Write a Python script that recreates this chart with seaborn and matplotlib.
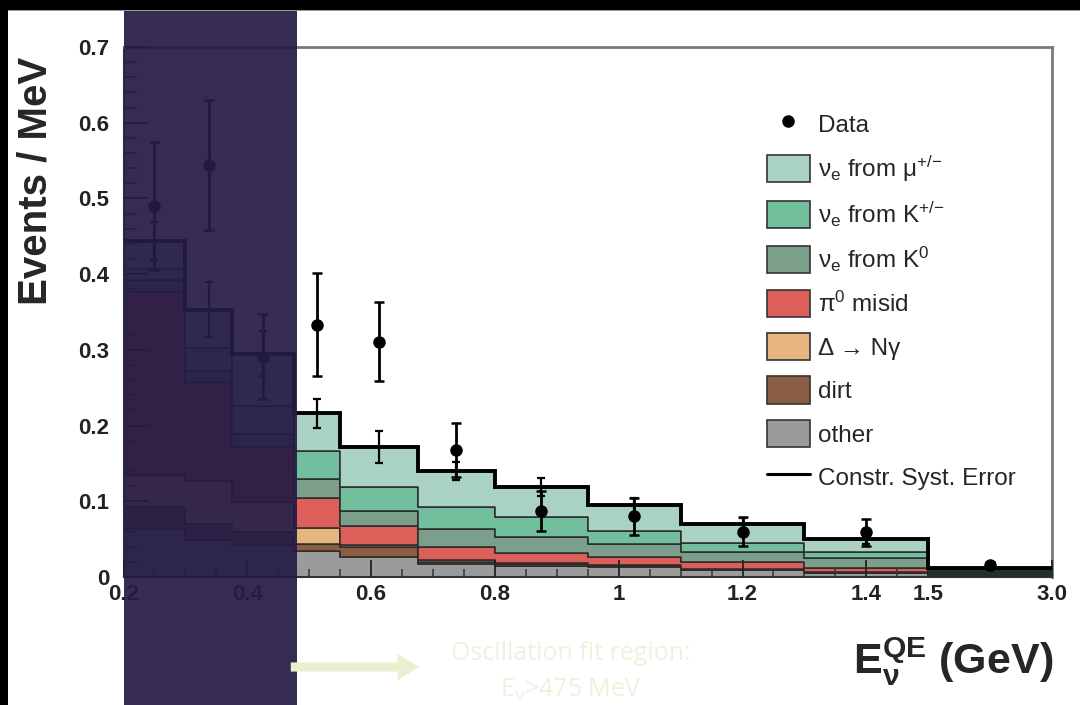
import numpy as np
import pandas as pd
import matplotlib
matplotlib.use("Agg")
import matplotlib.pyplot as plt
import seaborn as sns
from matplotlib.patches import Rectangle, Patch, FancyArrowPatch
from matplotlib.lines import Line2D
from matplotlib.transforms import blended_transform_factory

# ---------------- data ----------------
bin_edges = [0.2, 0.3, 0.375, 0.475, 0.55, 0.675, 0.8, 0.95, 1.1, 1.3, 1.5, 3.0]

nue_mu    = [0.037, 0.051, 0.069, 0.050, 0.053, 0.0475, 0.0396, 0.0342, 0.0251, 0.0165, 0.0033]
nue_kpm   = [0.015, 0.030, 0.037, 0.037, 0.032, 0.029, 0.0256, 0.0176, 0.0119, 0.0088, 0.0015]
nue_k0    = [0.015, 0.014, 0.017, 0.024, 0.020, 0.024, 0.0213, 0.0164, 0.0132, 0.0132, 0.0030]
pi0_misid = [0.242, 0.131, 0.073, 0.040, 0.025, 0.018, 0.014, 0.0108, 0.0084, 0.0045, 0.0010]
delta_ng  = [0.042, 0.057, 0.039, 0.021, 0.003, 0.002, 0.001, 0.001, 0.0005, 0.0005, 0.0002]
dirt      = [0.030, 0.021, 0.018, 0.010, 0.012, 0.003, 0.002, 0.002, 0.0015, 0.0010, 0.0005]
other     = [0.063, 0.049, 0.042, 0.034, 0.027, 0.017, 0.015, 0.013, 0.009, 0.0055, 0.0020]

data_vals = [0.490, 0.544, 0.291, 0.333, 0.311, 0.168, 0.087, 0.080, 0.060, 0.059, 0.016]
data_err  = [0.085, 0.086, 0.056, 0.068, 0.052, 0.036, 0.026, 0.025, 0.019, 0.018, 0.004]
syst_err  = [0.025, 0.036, 0.030, 0.019, 0.021, 0.012, 0.012, 0.010, 0.008, 0.006, 0.002]

comp_labels = [r"$\nu_e$ from $\mu^{+/{-}}$", r"$\nu_e$ from K$^{+/{-}}$", r"$\nu_e$ from K$^0$",
               r"$\pi^0$ misid", "Δ → Nγ", "dirt", "other"]
comp_colors = ["#a9d2c5", "#71bf9c", "#7c9f8b", "#dc5f5a", "#e7b67f", "#8c5d45", "#9b9b9b"]
comp_values = [nue_mu, nue_kpm, nue_k0, pi0_misid, delta_ng, dirt, other]

xtick_vals = [0.2, 0.4, 0.6, 0.8, 1.0, 1.2, 1.4, 1.5, 3.0]
xtick_labels = ["0.2", "0.4", "0.6", "0.8", "1", "1.2", "1.4", "1.5", "3.0"]
ytick_vals = [0, 0.1, 0.2, 0.3, 0.4, 0.5, 0.6, 0.7]
ytick_labels = ["0", "0.1", "0.2", "0.3", "0.4", "0.5", "0.6", "0.7"]

shade_range = [0.2, 0.48]
overflow_break = 1.5
overflow_squeeze = 0.2 / 1.5

# ---------------- style ----------------
sns.set_theme(style="white")
plt.rcParams["font.family"] = ["Liberation Sans", "DejaVu Sans"]
plt.rcParams["mathtext.fontset"] = "custom"
plt.rcParams["mathtext.rm"] = "Liberation Sans"
plt.rcParams["mathtext.it"] = "Liberation Sans"
plt.rcParams["mathtext.bf"] = "Liberation Sans:bold"
plt.rcParams["mathtext.sf"] = "Liberation Sans"
plt.rcParams["mathtext.default"] = "regular"

W, H = 1080, 705
fig = plt.figure(figsize=(W / 100, H / 100), dpi=100)
fig.patch.set_facecolor("white")
ax = fig.add_axes([123.5 / W, (H - 577) / H, (1052 - 123.5) / W, (577 - 47) / H])
ax.set_facecolor("white")


def fwd(x):
    x = np.asarray(x, dtype=float)
    return np.where(x <= overflow_break, x, overflow_break + (x - overflow_break) * overflow_squeeze)


def inv(y):
    y = np.asarray(y, dtype=float)
    return np.where(y <= overflow_break, y, overflow_break + (y - overflow_break) / overflow_squeeze)


ax.set_xscale("function", functions=(fwd, inv))

edges = np.array(bin_edges)
centers = 0.5 * (edges[:-1] + edges[1:])

rows = []
for lab, vals in zip(comp_labels, comp_values):
    for c, v in zip(centers, vals):
        rows.append({"E": c, "w": v, "comp": lab})
df = pd.DataFrame(rows)

sns.histplot(data=df, x="E", weights="w", hue="comp", hue_order=comp_labels,
             bins=bin_edges, multiple="stack", element="step", fill=True,
             palette=dict(zip(comp_labels, comp_colors)), alpha=1.0,
             edgecolor="#2a2a2a", linewidth=1.1, legend=False, stat="count", ax=ax)

total = np.sum(np.array(comp_values), axis=0)
# overflow bin drawn dark
ax.stairs(total[-1:], edges[-2:], fill=True, color="#25302a", zorder=3)
ax.stairs(total, edges, baseline=None, color="black", linewidth=2.8, zorder=4)

ax.errorbar(centers, total, yerr=syst_err, fmt="none", ecolor="black",
            elinewidth=1.6, capsize=3, capthick=1.6, zorder=5)
ax.errorbar(centers, data_vals, yerr=data_err, fmt="o", color="black", ms=8,
            elinewidth=2.0, capsize=3.5, capthick=1.8, zorder=6)

ax.set_xlim(bin_edges[0], bin_edges[-1])
ax.set_ylim(0, 0.7)
ax.set_xlabel("")
ax.set_ylabel("")
ax.set_axisbelow(False)

ax.set_xticks(xtick_vals, labels=xtick_labels, fontweight="bold", fontsize=16)
minor_x = list(np.arange(0.25, 1.5, 0.05)) + [1.875, 2.25, 2.625]
ax.set_xticks(minor_x, minor=True)
ax.set_yticks(ytick_vals, labels=ytick_labels, fontweight="bold", fontsize=16)
ax.set_yticks(np.arange(0.02, 0.7, 0.02), minor=True)
ax.tick_params(axis="x", which="major", direction="in", length=12, width=1.3, pad=5, colors="#222")
ax.tick_params(axis="x", which="minor", direction="in", length=6, width=1.1, colors="#333")
ax.tick_params(axis="y", which="major", direction="in", length=18, width=1.3, pad=10, colors="#222")
ax.tick_params(axis="y", which="minor", direction="in", length=9, width=1.1, colors="#333")
ax.tick_params(bottom=True, left=True, top=False, right=False, which="both")
for s in ["top", "right"]:
    ax.spines[s].set_color("#7a7a7a")
    ax.spines[s].set_linewidth(2.0)
for s in ["bottom", "left"]:
    ax.spines[s].set_color("#333333")
    ax.spines[s].set_linewidth(1.5)

# legend
handles = [Line2D([], [], marker="o", color="black", ls="none", ms=8)]
handles += [Patch(facecolor=c, edgecolor="#333333", linewidth=1.2) for c in comp_colors]
handles += [Line2D([], [], color="black", lw=2.2)]
labels = ["Data"] + comp_labels + ["Constr. Syst. Error"]
ax.legend(handles, labels, loc="upper left", bbox_to_anchor=(767 / W, 1 - 110 / H),
          bbox_transform=fig.transFigure, frameon=False, fontsize=17.5,
          handlelength=1.75, handleheight=1.35, labelspacing=0.66, handletextpad=0.35,
          borderpad=0, borderaxespad=0)

# axis titles
fig.text(36 / W, 1 - 181 / H, "Events / MeV", rotation=90, fontsize=29,
         fontweight="bold", ha="center", va="center")
fig.text(953 / W, (H - 662) / H, r"$\mathbf{E}_{\nu}^{\mathbf{QE}}$ (GeV)", fontsize=31,
         fontweight="bold", ha="center", va="center")

# shaded region (outside oscillation fit)
shade = Rectangle((shade_range[0], 0), shade_range[1] - shade_range[0], 1,
                  transform=blended_transform_factory(ax.transData, fig.transFigure),
                  facecolor="#261c45", alpha=0.93, edgecolor="none", zorder=5)
fig.add_artist(shade)

# arrow and annotation
arrow = FancyArrowPatch((2.88, 0.38), (4.22, 0.38), transform=fig.dpi_scale_trans,
                        arrowstyle="simple,head_width=1.6,head_length=1.3,tail_width=0.55",
                        mutation_scale=12, color="#e9f0cf", lw=0, zorder=6)
fig.add_artist(arrow)
fig.text(571 / W, (H - 654) / H, "Oscillation fit region:", fontsize=18, color="#edf2dc",
         family="Open Sans", ha="center", va="center", zorder=6)
fig.text(571 / W, (H - 690) / H, r"E$_\nu$>475 MeV", fontsize=18, color="#edf2dc",
         family="Open Sans", ha="center", va="center", zorder=6)

# black frame edges
fig.add_artist(Rectangle((0, 1 - 9.5 / H), 1, 9.5 / H, transform=fig.transFigure,
                         facecolor="black", edgecolor="none", zorder=10))
fig.add_artist(Rectangle((0, 1 - 11 / H), 1, 1.5 / H, transform=fig.transFigure,
                         facecolor="#9a9a9a", edgecolor="none", zorder=9))
fig.add_artist(Rectangle((0, 0), 8 / W, 1, transform=fig.transFigure,
                         facecolor="black", edgecolor="none", zorder=10))

fig.savefig("out.png", dpi=100)
